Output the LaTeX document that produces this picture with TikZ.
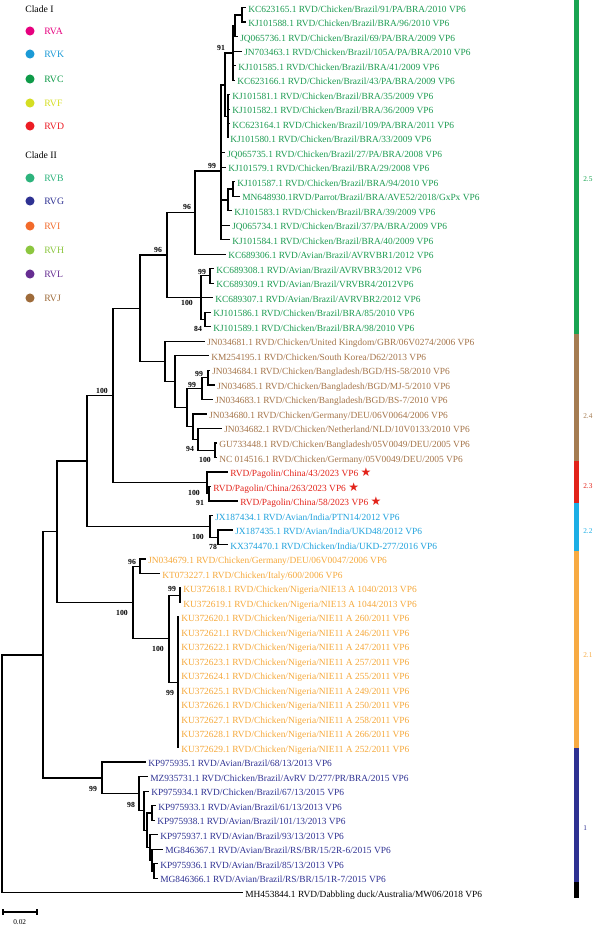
\documentclass[tikz,border=0pt]{standalone}
\usepackage{fontspec}
\setmainfont{Liberation Serif}
\newfontfamily\starfont{DejaVu Sans}
\definecolor{cgreen}{HTML}{1A9A50}
\definecolor{cbrown}{HTML}{A47449}
\definecolor{cred}{HTML}{E2231A}
\definecolor{ccyan}{HTML}{1DA1DC}
\definecolor{corange}{HTML}{F5A83A}
\definecolor{cnavy}{HTML}{2E3192}
\definecolor{bgreen}{HTML}{19A452}
\definecolor{bbrown}{HTML}{A57C52}
\definecolor{bcyan}{HTML}{1CAEE5}
\definecolor{borange}{HTML}{F7AA42}
\definecolor{gRVA}{HTML}{E6007E}
\definecolor{gRVK}{HTML}{1B9AD6}
\definecolor{gRVC}{HTML}{0E9A48}
\definecolor{gRVF}{HTML}{D5DE23}
\definecolor{gRVD}{HTML}{EC1C24}
\definecolor{gRVB}{HTML}{2DB37C}
\definecolor{gRVG}{HTML}{2E3192}
\definecolor{gRVI}{HTML}{F26A2A}
\definecolor{gRVH}{HTML}{8CC63F}
\definecolor{gRVL}{HTML}{662D91}
\definecolor{gRVJ}{HTML}{9E6B3A}
\newcommand\leafnode[5]{\node[leaf,text=#4] (#1) at (#2,{7.6+14.51*#3}) {#5};}
\newcommand\pstar{~{\starfont\fontsize{9}{9}\selectfont\textcolor{cred}{★}}}
\begin{document}
\begin{tikzpicture}[x=0.75pt,y=-0.75pt,
  leaf/.style={anchor=west,inner xsep=1.5pt,inner ysep=0pt,text height=1.5ex,text depth=0pt,font=\fontsize{7.05}{8}\selectfont},
  br/.style={line width=0.95pt},
  bs/.style={inner sep=0pt,font=\fontsize{5.8}{6}\selectfont\bfseries},
  lg/.style={anchor=west,inner sep=0pt,font=\fontsize{7.3}{8}\selectfont},
  dot/.style={circle,inner sep=0pt,minimum size=6.8pt},
  bl/.style={anchor=west,inner sep=0pt,font=\fontsize{5.5}{6}\selectfont}]
\useasboundingbox (0,0) rectangle (600,926);

% ---------- legend ----------
\node[lg] (cl1) at (25,9) {Clade I};
\node[dot,fill=gRVA] (dA) at (30,31) {}; \node[lg,text=gRVA] (tA) at (44,31) {RVA};
\node[dot,fill=gRVK] (dK) at (30,54) {}; \node[lg,text=gRVK] (tK) at (44,54) {RVK};
\node[dot,fill=gRVC] (dC) at (30,79) {}; \node[lg,text=gRVC] (tC) at (44,79) {RVC};
\node[dot,fill=gRVF] (dF) at (30,103) {}; \node[lg,text=gRVF] (tF) at (44,103) {RVF};
\node[dot,fill=gRVD] (dD) at (30,126) {}; \node[lg,text=gRVD] (tD) at (44,126) {RVD};
\node[lg] (cl2) at (25,155) {Clade II};
\node[dot,fill=gRVB] (dB) at (30,178) {}; \node[lg,text=gRVB] (tB) at (44,178) {RVB};
\node[dot,fill=gRVG] (dG) at (30,201) {}; \node[lg,text=gRVG] (tG) at (44,201) {RVG};
\node[dot,fill=gRVI] (dI) at (30,226) {}; \node[lg,text=gRVI] (tI) at (44,226) {RVI};
\node[dot,fill=gRVH] (dH) at (30,250) {}; \node[lg,text=gRVH] (tH) at (44,250) {RVH};
\node[dot,fill=gRVL] (dL) at (30,274) {}; \node[lg,text=gRVL] (tL) at (44,274) {RVL};
\node[dot,fill=gRVJ] (dJ) at (30,298) {}; \node[lg,text=gRVJ] (tJ) at (44,298) {RVJ};

% ---------- leaves ----------
\leafnode{l0}{246}{0}{cgreen}{KC623165.1 RVD/Chicken/Brazil/91/PA/BRA/2010 VP6}
\leafnode{l1}{246}{1}{cgreen}{KJ101588.1 RVD/Chicken/Brazil/BRA/96/2010 VP6}
\leafnode{l2}{238}{2}{cgreen}{JQ065736.1 RVD/Chicken/Brazil/69/PA/BRA/2009 VP6}
\leafnode{l3}{242}{3}{cgreen}{JN703463.1 RVD/Chicken/Brazil/105A/PA/BRA/2010 VP6}
\leafnode{l4}{236}{4}{cgreen}{KJ101585.1 RVD/Chicken/Brazil/BRA/41/2009 VP6}
\leafnode{l5}{235}{5}{cgreen}{KC623166.1 RVD/Chicken/Brazil/43/PA/BRA/2009 VP6}
\leafnode{l6}{230}{6}{cgreen}{KJ101581.1 RVD/Chicken/Brazil/BRA/35/2009 VP6}
\leafnode{l7}{230}{7}{cgreen}{KJ101582.1 RVD/Chicken/Brazil/BRA/36/2009 VP6}
\leafnode{l8}{230}{8}{cgreen}{KC623164.1 RVD/Chicken/Brazil/109/PA/BRA/2011 VP6}
\leafnode{l9}{228}{9}{cgreen}{KJ101580.1 RVD/Chicken/Brazil/BRA/33/2009 VP6}
\leafnode{l10}{225}{10}{cgreen}{JQ065735.1 RVD/Chicken/Brazil/27/PA/BRA/2008 VP6}
\leafnode{l11}{226}{11}{cgreen}{KJ101579.1 RVD/Chicken/Brazil/BRA/29/2008 VP6}
\leafnode{l12}{235}{12}{cgreen}{KJ101587.1 RVD/Chicken/Brazil/BRA/94/2010 VP6}
\leafnode{l13}{240}{13}{cgreen}{MN648930.1RVD/Parrot/Brazil/BRA/AVE52/2018/GxPx VP6}
\leafnode{l14}{232}{14}{cgreen}{KJ101583.1 RVD/Chicken/Brazil/BRA/39/2009 VP6}
\leafnode{l15}{230}{15}{cgreen}{JQ065734.1 RVD/Chicken/Brazil/37/PA/BRA/2009 VP6}
\leafnode{l16}{230}{16}{cgreen}{KJ101584.1 RVD/Chicken/Brazil/BRA/40/2009 VP6}
\leafnode{l17}{226}{17}{cgreen}{KC689306.1 RVD/Avian/Brazil/AVRVBR1/2012 VP6}
\leafnode{l18}{214}{18}{cgreen}{KC689308.1 RVD/Avian/Brazil/AVRVBR3/2012 VP6}
\leafnode{l19}{214}{19}{cgreen}{KC689309.1 RVD/Avian/Brazil/VRVBR4/2012VP6}
\leafnode{l20}{213}{20}{cgreen}{KC689307.1 RVD/Avian/Brazil/AVRVBR2/2012 VP6}
\leafnode{l21}{211}{21}{cgreen}{KJ101586.1 RVD/Chicken/Brazil/BRA/85/2010 VP6}
\leafnode{l22}{211}{22}{cgreen}{KJ101589.1 RVD/Chicken/Brazil/BRA/98/2010 VP6}
\leafnode{l23}{205}{23}{cbrown}{JN034681.1 RVD/Chicken/United Kingdom/GBR/06V0274/2006 VP6}
\leafnode{l24}{209}{24}{cbrown}{KM254195.1 RVD/Chicken/South Korea/D62/2013 VP6}
\leafnode{l25}{210}{25}{cbrown}{JN034684.1 RVD/Chicken/Bangladesh/BGD/HS-58/2010 VP6}
\leafnode{l26}{215}{26}{cbrown}{JN034685.1 RVD/Chicken/Bangladesh/BGD/MJ-5/2010 VP6}
\leafnode{l27}{213}{27}{cbrown}{JN034683.1 RVD/Chicken/Bangladesh/BGD/BS-7/2010 VP6}
\leafnode{l28}{207}{28}{cbrown}{JN034680.1 RVD/Chicken/Germany/DEU/06V0064/2006 VP6}
\leafnode{l29}{222}{29}{cbrown}{JN034682.1 RVD/Chicken/Netherland/NLD/10V0133/2010 VP6}
\leafnode{l30}{217}{30}{cbrown}{GU733448.1 RVD/Chicken/Bangladesh/05V0049/DEU/2005 VP6}
\leafnode{l31}{217}{31}{cbrown}{NC 014516.1 RVD/Chicken/Germany/05V0049/DEU/2005 VP6}
\leafnode{l32}{228}{32}{cred}{RVD/Pagolin/China/43/2023 VP6\pstar}
\leafnode{l33}{211}{33}{cred}{RVD/Pagolin/China/263/2023 VP6\pstar}
\leafnode{l34}{238}{34}{cred}{RVD/Pagolin/China/58/2023 VP6\pstar}
\leafnode{l35}{213}{35}{ccyan}{JX187434.1 RVD/Avian/India/PTN14/2012 VP6}
\leafnode{l36}{233}{36}{ccyan}{JX187435.1 RVD/Avian/India/UKD48/2012 VP6}
\leafnode{l37}{228}{37}{ccyan}{KX374470.1 RVD/Chicken/India/UKD-277/2016 VP6}
\leafnode{l38}{146}{38}{corange}{JN034679.1 RVD/Chicken/Germany/DEU/06V0047/2006 VP6}
\leafnode{l39}{160}{39}{corange}{KT073227.1 RVD/Chicken/Italy/600/2006 VP6}
\leafnode{l40}{181}{40}{corange}{KU372618.1 RVD/Chicken/Nigeria/NIE13 A 1040/2013 VP6}
\leafnode{l41}{181}{41}{corange}{KU372619.1 RVD/Chicken/Nigeria/NIE13 A 1044/2013 VP6}
\leafnode{l42}{179}{42}{corange}{KU372620.1 RVD/Chicken/Nigeria/NIE11 A 260/2011 VP6}
\leafnode{l43}{179}{43}{corange}{KU372621.1 RVD/Chicken/Nigeria/NIE11 A 246/2011 VP6}
\leafnode{l44}{179}{44}{corange}{KU372622.1 RVD/Chicken/Nigeria/NIE11 A 247/2011 VP6}
\leafnode{l45}{179}{45}{corange}{KU372623.1 RVD/Chicken/Nigeria/NIE11 A 257/2011 VP6}
\leafnode{l46}{179}{46}{corange}{KU372624.1 RVD/Chicken/Nigeria/NIE11 A 255/2011 VP6}
\leafnode{l47}{179}{47}{corange}{KU372625.1 RVD/Chicken/Nigeria/NIE11 A 249/2011 VP6}
\leafnode{l48}{179}{48}{corange}{KU372626.1 RVD/Chicken/Nigeria/NIE11 A 250/2011 VP6}
\leafnode{l49}{179}{49}{corange}{KU372627.1 RVD/Chicken/Nigeria/NIE11 A 258/2011 VP6}
\leafnode{l50}{179}{50}{corange}{KU372628.1 RVD/Chicken/Nigeria/NIE11 A 266/2011 VP6}
\leafnode{l51}{179}{51}{corange}{KU372629.1 RVD/Chicken/Nigeria/NIE11 A 252/2011 VP6}
\leafnode{l52}{146}{52}{cnavy}{KP975935.1 RVD/Avian/Brazil/68/13/2013 VP6}
\leafnode{l53}{148}{53}{cnavy}{MZ935731.1 RVD/Chicken/Brazil/AvRV D/277/PR/BRA/2015 VP6}
\leafnode{l54}{149}{54}{cnavy}{KP975934.1 RVD/Chicken/Brazil/67/13/2015 VP6}
\leafnode{l55}{156}{55}{cnavy}{KP975933.1 RVD/Avian/Brazil/61/13/2013 VP6}
\leafnode{l56}{155}{56}{cnavy}{KP975938.1 RVD/Avian/Brazil/101/13/2013 VP6}
\leafnode{l57}{158}{57}{cnavy}{KP975937.1 RVD/Avian/Brazil/93/13/2013 VP6}
\leafnode{l58}{163}{58}{cnavy}{MG846367.1 RVD/Avian/Brazil/RS/BR/15/2R-6/2015 VP6}
\leafnode{l59}{158}{59}{cnavy}{KP975936.1 RVD/Avian/Brazil/85/13/2013 VP6}
\leafnode{l60}{158}{60}{cnavy}{MG846366.1 RVD/Avian/Brazil/RS/BR/15/1R-7/2015 VP6}
\leafnode{l61}{243}{61}{black}{MH453844.1 RVD/Dabbling duck/Australia/MW06/2018 VP6}

% ---------- internal nodes ----------
\coordinate (nA) at (242,14.9);
\coordinate (nB) at (235,25.7);
\coordinate (nC) at (233,53);
\coordinate (nE) at (228,116.5);
\coordinate (nD) at (225,85);
\coordinate (nG) at (233,189);
\coordinate (nF) at (228,200);
\coordinate (n99a) at (221,171);
\coordinate (n96a) at (195,212.7);
\coordinate (n99b) at (210,275.5);
\coordinate (n84) at (205,319.5);
\coordinate (n100b) at (201,297.5);
\coordinate (n96b) at (167,255.1);
\coordinate (nB99b) at (208,377.6);
\coordinate (nB99a) at (202,388.5);
\coordinate (nB100c) at (215,450.2);
\coordinate (nB94) at (198,439.3);
\coordinate (nBx) at (193,426.6);
\coordinate (nBy) at (187,407.5);
\coordinate (nBz) at (175,381.7);
\coordinate (nBt) at (165,361.5);
\coordinate (n24) at (140,308.3);
\coordinate (nPag2) at (209,493.7);
\coordinate (nPag) at (207,482.8);
\coordinate (n113) at (113,395.6);
\coordinate (nCy2) at (218,537.3);
\coordinate (nCy) at (210,526.4);
\coordinate (n87) at (87,461);
\coordinate (nO96) at (140,566.3);
\coordinate (nO99c) at (180,595.3);
\coordinate (nO99d) at (178,682.3);
\coordinate (nO100p) at (169,638.8);
\coordinate (nO100) at (133,602.5);
\coordinate (n57) at (57,531.7);
\coordinate (nGa) at (152,812.9);
\coordinate (nGc) at (154,871);
\coordinate (nGb2) at (152,860.1);
\coordinate (nGb) at (150,847.4);
\coordinate (nG98c) at (147,830.2);
\coordinate (nG98b) at (144,810.6);
\coordinate (nG98) at (139,793.6);
\coordinate (nG99) at (102,777.9);
\coordinate (ING) at (43,654.9);
\coordinate (ROOT) at (2,774);

% ---------- branches ----------
\begin{scope}[br]
\draw (nA) |- (l0.west); \draw (nA) |- (l1.west);
\draw (nB) |- (nA); \draw (nB) |- (l2.west);
\draw (nC) |- (nB); \draw (nC) |- (l3.west); \draw (nC) |- (l4.west); \draw (nC) |- (l5.west);
\draw (nE) |- (l6.west); \draw (nE) |- (l7.west); \draw (nE) |- (l8.west); \draw (nE) |- (l9.west);
\draw (nD) |- (nC); \draw (nD) |- (nE);
\draw (nG) |- (l12.west); \draw (nG) |- (l13.west);
\draw (nF) |- (nG); \draw (nF) |- (l14.west);
\draw (n99a) |- (nD); \draw (n99a) |- (l10.west); \draw (n99a) |- (l11.west);
\draw (n99a) |- (nF); \draw (n99a) |- (l15.west); \draw (n99a) |- (l16.west);
\draw (n96a) |- (n99a); \draw (n96a) |- (l17.west);
\draw (n99b) |- (l18.west); \draw (n99b) |- (l19.west);
\draw (n84) |- (l21.west); \draw (n84) |- (l22.west);
\draw (n100b) |- (n99b); \draw (n100b) |- (l20.west); \draw (n100b) |- (n84);
\draw (n96b) |- (n96a); \draw (n96b) |- (n100b);
\draw (nB99b) |- (l25.west); \draw (nB99b) |- (l26.west);
\draw (nB99a) |- (nB99b); \draw (nB99a) |- (l27.west);
\draw (nB100c) |- (l30.west); \draw (nB100c) |- (l31.west);
\draw (nB94) |- (l29.west); \draw (nB94) |- (nB100c);
\draw (nBx) |- (l28.west); \draw (nBx) |- (nB94);
\draw (nBy) |- (nB99a); \draw (nBy) |- (nBx);
\draw (nBz) |- (l24.west); \draw (nBz) |- (nBy);
\draw (nBt) |- (l23.west); \draw (nBt) |- (nBz);
\draw (n24) |- (n96b); \draw (n24) |- (nBt);
\draw (nPag2) |- (l33.west); \draw (nPag2) |- (l34.west);
\draw (nPag) |- (l32.west); \draw (nPag) |- (nPag2);
\draw (n113) |- (n24); \draw (n113) |- (nPag);
\draw (nCy2) |- (l36.west); \draw (nCy2) |- (l37.west);
\draw (nCy) |- (l35.west); \draw (nCy) |- (nCy2);
\draw (n87) |- (n113); \draw (n87) |- (nCy);
\draw (nO96) |- (l38.west); \draw (nO96) |- (l39.west);
\draw (nO99c) |- (l40.west); \draw (nO99c) |- (l41.west);
\foreach \k in {42,...,51} {\draw (nO99d) |- (l\k.west);}
\draw (nO100p) |- (nO99c); \draw (nO100p) |- (nO99d);
\draw (nO100) |- (nO96); \draw (nO100) |- (nO100p);
\draw (n57) |- (n87); \draw (n57) |- (nO100);
\draw (nGa) |- (l55.west); \draw (nGa) |- (l56.west);
\draw (nGc) |- (l59.west); \draw (nGc) |- (l60.west);
\draw (nGb2) |- (l58.west); \draw (nGb2) |- (nGc);
\draw (nGb) |- (l57.west); \draw (nGb) |- (nGb2);
\draw (nG98c) |- (nGa); \draw (nG98c) |- (nGb);
\draw (nG98b) |- (l54.west); \draw (nG98b) |- (nG98c);
\draw (nG98) |- (l53.west); \draw (nG98) |- (nG98b);
\draw (nG99) |- (l52.west); \draw (nG99) |- (nG98);
\draw (ING) |- (n57); \draw (ING) |- (nG99);
\draw (ROOT) |- (ING); \draw (ROOT) |- (l61.west);
\end{scope}

% ---------- bootstrap values ----------
\node[bs] (b1) at (221,48) {91};
\node[bs] (b2) at (212,166) {99};
\node[bs] (b3) at (187,207) {96};
\node[bs] (b4) at (202,272) {99};
\node[bs] (b5) at (187,303) {100};
\node[bs] (b6) at (198,329) {84};
\node[bs] (b7) at (199,374) {99};
\node[bs] (b8) at (192,385) {99};
\node[bs] (b9) at (190,449) {94};
\node[bs] (b10) at (205,460) {100};
\node[bs] (b11) at (194,493) {100};
\node[bs] (b12) at (200,503) {91};
\node[bs] (b13) at (198,537) {100};
\node[bs] (b14) at (213,547) {78};
\node[bs] (b15) at (132,562) {96};
\node[bs] (b16) at (172,589) {99};
\node[bs] (b17) at (122,613) {100};
\node[bs] (b18) at (158,649) {100};
\node[bs] (b19) at (170,693) {99};
\node[bs] (b20) at (93,789) {99};
\node[bs] (b21) at (131,805) {98};
\node[bs] (b22) at (158,250) {96};
\node[bs] (b23) at (102,391) {100};

% ---------- genotype bar ----------
\fill[bgreen] (574,0) rectangle (579,334);
\fill[bbrown] (574,334) rectangle (579,461);
\fill[cred] (574,461) rectangle (579,503);
\fill[bcyan] (574,503) rectangle (579,551);
\fill[borange] (574,551) rectangle (579,748);
\fill[cnavy] (574,748) rectangle (579,882);
\fill[black] (574,882) rectangle (579,898);
\node[bl,text=bgreen] (g25) at (583,179) {2.5};
\node[bl,text=bbrown] (g24) at (583,416) {2.4};
\node[bl,text=cred] (g23) at (583,486) {2.3};
\node[bl,text=bcyan] (g22) at (583,531) {2.2};
\node[bl,text=borange] (g21) at (583,655) {2.1};
\node[bl,text=cnavy] (g1) at (583,828) {1};

% ---------- scale bar ----------
\coordinate (s1) at (3,912);
\coordinate (s2) at (37,912);
\draw[br] (s1) -- (s2);
\draw[br] ([yshift=-2.2pt]s1) -- ([yshift=2.2pt]s1);
\draw[br] ([yshift=-2.2pt]s2) -- ([yshift=2.2pt]s2);
\node[bl] (sl) at (13,922) {0.02};
\end{tikzpicture}
\end{document}
